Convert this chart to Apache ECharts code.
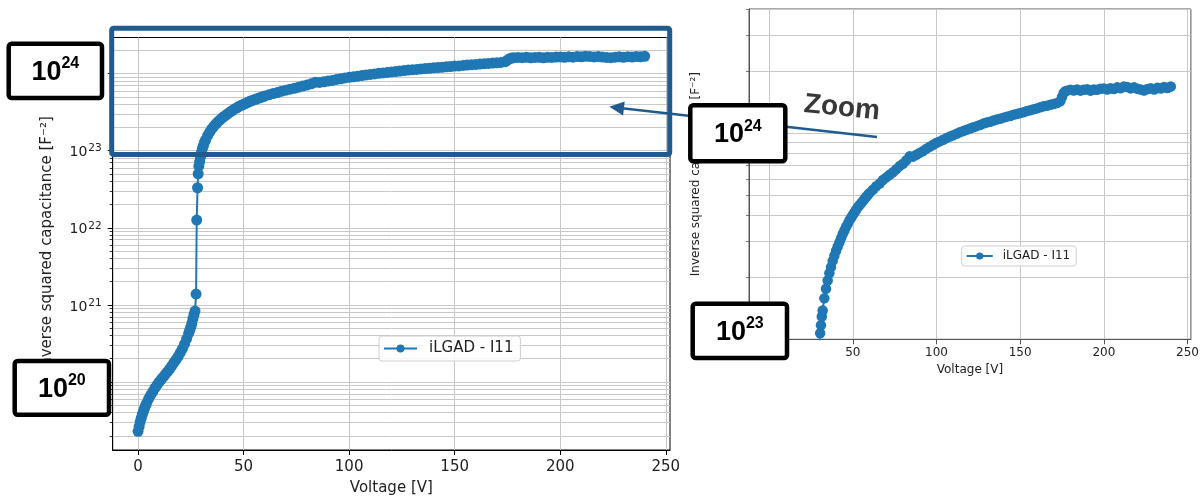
<!DOCTYPE html>
<html>
<head>
<meta charset="utf-8">
<title>iLGAD - I11 inverse squared capacitance</title>
<script src="https://cdn.jsdelivr.net/npm/echarts@6/dist/echarts.min.js"></script>
<style>
  html, body { margin: 0; padding: 0; background: #ffffff; }
  #chart { width: 1202px; height: 501px; }
</style>
</head>
<body>
<div id="chart"></div>
<script>
// Bias voltage sweep [V]
const voltage = [
  0, 0.5, 1, 1.5, 2, 2.5, 3, 3.5, 4, 5, 6, 7, 8, 9, 10, 11, 12, 13, 14, 15,
  16, 17, 18, 19, 20, 21, 22, 23, 24, 24.5, 25, 25.5, 26, 26.5, 27, 27.5, 27.8, 28.2, 28.5, 28.8,
  29.2, 29.6, 30, 30.5, 31, 31.5, 32, 33, 34, 35, 36, 37, 38, 39, 40, 41, 42, 43, 44, 45,
  46, 47, 48, 49, 50, 51, 52, 53, 54, 55, 56, 57, 58, 59, 60, 62, 64, 66, 68, 70,
  72, 74, 76, 78, 80, 82, 84, 86, 88, 90, 92, 94, 96, 98, 100, 102, 104, 106, 108, 110,
  112, 114, 116, 118, 120, 122, 124, 126, 128, 130, 132, 134, 136, 138, 140, 142, 144, 146, 148, 150,
  152, 154, 156, 158, 160, 162, 164, 166, 168, 170, 172, 174, 175, 176, 177, 178, 180, 182, 184, 186,
  188, 190, 192, 194, 196, 198, 200, 202, 204, 206, 208, 210, 212, 214, 216, 218, 220, 222, 224, 226,
  228, 230, 232, 234, 236, 238, 240
];

// Measured 1/C^2 [F^-2]
const invCap2 = [
  2.29e19, 2.63e19, 3.02e19, 3.39e19, 3.76e19, 4.12e19, 4.52e19, 4.90e19, 5.25e19, 6.03e19,
  6.76e19, 7.50e19, 8.32e19, 9.12e19, 1.00e20, 1.08e20, 1.16e20, 1.26e20, 1.36e20, 1.48e20,
  1.62e20, 1.78e20, 1.95e20, 2.14e20, 2.40e20, 2.69e20, 3.09e20, 3.63e20, 4.27e20, 4.68e20,
  5.13e20, 5.75e20, 6.61e20, 7.41e20, 8.32e20, 1.38e21, 1.26e22, 3.31e22, 5.01e22, 6.31e22,
  7.24e22, 8.32e22, 9.55e22, 1.07e23, 1.17e23, 1.29e23, 1.38e23, 1.58e23, 1.76e23, 1.93e23,
  2.09e23, 2.24e23, 2.40e23, 2.54e23, 2.69e23, 2.82e23, 2.95e23, 3.09e23, 3.24e23, 3.37e23,
  3.51e23, 3.63e23, 3.78e23, 3.89e23, 4.01e23, 4.12e23, 4.25e23, 4.37e23, 4.47e23, 4.57e23,
  4.68e23, 4.79e23, 4.90e23, 5.01e23, 5.13e23, 5.31e23, 5.52e23, 5.69e23, 5.92e23, 6.10e23,
  6.28e23, 6.46e23, 6.68e23, 6.92e23, 7.11e23, 7.38e23, 7.73e23, 7.69e23, 7.85e23, 8.02e23,
  8.18e23, 8.41e23, 8.59e23, 8.79e23, 8.97e23, 9.12e23, 9.29e23, 9.46e23, 9.62e23, 9.77e23,
  9.93e23, 1.009e24, 1.023e24, 1.038e24, 1.052e24, 1.067e24, 1.081e24, 1.096e24, 1.112e24, 1.125e24,
  1.135e24, 1.151e24, 1.164e24, 1.175e24, 1.189e24, 1.202e24, 1.211e24, 1.227e24, 1.239e24, 1.253e24,
  1.262e24, 1.279e24, 1.291e24, 1.306e24, 1.318e24, 1.334e24, 1.349e24, 1.358e24, 1.371e24, 1.384e24,
  1.400e24, 1.429e24, 1.496e24, 1.567e24, 1.596e24, 1.607e24, 1.622e24, 1.611e24, 1.629e24, 1.607e24,
  1.622e24, 1.633e24, 1.607e24, 1.629e24, 1.622e24, 1.641e24, 1.648e24, 1.629e24, 1.652e24, 1.637e24,
  1.667e24, 1.652e24, 1.683e24, 1.675e24, 1.648e24, 1.667e24, 1.641e24, 1.626e24, 1.611e24, 1.637e24,
  1.652e24, 1.629e24, 1.660e24, 1.644e24, 1.675e24, 1.656e24, 1.683e24
];

const seriesName = 'iLGAD - I11';
const xTicks = [0, 50, 100, 150, 200, 250];
const fullDecades = [1e20, 1e21, 1e22, 1e23, 1e24];
const fullLabelDecades = [1e21, 1e22, 1e23];
const zoomDecades = [1e23, 1e24];

const blue = '#1f77b4';
const frameBlue = '#1f5b8e';
const gridGray = '#c8c8c8';

const points = voltage.map((v, i) => [v, invCap2[i]]);

const powLabel = v => '{b|10}{s|' + Math.round(Math.log10(v)) + '}';

function xAxisFor(gridIndex, fontSize, lineColor, margin, nameGap) {
  return {
    type: 'value', gridIndex: gridIndex, min: -12, max: 252,
    axisLine: { show: true, onZero: false, lineStyle: { color: lineColor, width: 1 } },
    axisTick: { show: true, inside: false, length: 5, customValues: xTicks, lineStyle: { color: lineColor } },
    axisLabel: { customValues: xTicks, fontSize: fontSize,
                 color: '#222', margin: margin, fontFamily: 'DejaVu Sans' },
    splitLine: { show: true, lineStyle: { color: gridGray, width: 1 } },
    name: 'Voltage [V]', nameLocation: 'middle', nameGap: nameGap,
    nameTextStyle: { fontSize: fontSize, color: '#222', fontFamily: 'DejaVu Sans' }
  };
}

function yAxisFor(gridIndex, min, max, tickValues, labelValues, showLabels, fontSize, lineColor, nameGap) {
  return {
    type: 'log', logBase: 10, gridIndex: gridIndex, min: min, max: max,
    axisLine: { show: true, onZero: false, lineStyle: { color: lineColor, width: 1 } },
    axisTick: { show: true, inside: false, length: 5, customValues: tickValues, lineStyle: { color: lineColor } },
    minorTick: { show: true, splitNumber: 9, length: 3, lineStyle: { color: lineColor, width: 0.8 } },
    axisLabel: {
      show: showLabels, customValues: labelValues,
      formatter: powLabel, margin: 11, color: '#222',
      rich: {
        b: { fontSize: 14, fontFamily: 'DejaVu Sans', color: '#222', padding: [4, 0, 0, 0] },
        s: { fontSize: 10.5, fontFamily: 'DejaVu Sans', color: '#222', padding: [0, 0, 4, 1] }
      }
    },
    splitLine: { show: true, lineStyle: { color: gridGray, width: 1 } },
    minorSplitLine: { show: true, lineStyle: { color: gridGray, width: 1 } },
    name: 'Inverse squared capacitance [F\u207B\u00B2]', nameLocation: 'middle', nameGap: nameGap, nameRotate: 90,
    nameTextStyle: { fontSize: fontSize, color: '#222', fontFamily: 'DejaVu Sans' }
  };
}

function cvSeries(index, size) {
  return {
    name: seriesName, type: 'line', xAxisIndex: index, yAxisIndex: index,
    data: points, symbol: 'circle', symbolSize: size, showSymbol: true, showAllSymbol: true,
    itemStyle: { color: blue }, lineStyle: { color: blue, width: 2 },
    emphasis: { disabled: true }, clip: true, z: 3
  };
}

function legendFor(left, top, fontSize, itemWidth, itemHeight, padding, textPad) {
  return {
    data: [seriesName], left: left, top: top, orient: 'horizontal',
    itemWidth: itemWidth, itemHeight: itemHeight, padding: padding,
    backgroundColor: 'rgba(255,255,255,0.85)', borderColor: '#cfcfcf', borderWidth: 1, borderRadius: 3,
    selectedMode: false,
    textStyle: { fontSize: fontSize, color: '#222', fontFamily: 'DejaVu Sans', padding: textPad }
  };
}

// Annotation box with a power-of-ten label
function powerBox(x, y, w, h, exponent) {
  return [
    { type: 'rect', z: 110, shape: { x: x, y: y, width: w, height: h, r: 3 },
      style: { fill: '#ffffff', stroke: '#000000', lineWidth: 4.5 } },
    { type: 'text', z: 111, x: x + w / 2, y: y + h / 2,
      style: {
        text: '{b|10}{s|' + exponent + '}', x: 0, y: 0, align: 'center', verticalAlign: 'middle',
        textAlign: 'center', textVerticalAlign: 'middle',
        rich: {
          b: { fontSize: 27, fontWeight: 'bold', fontFamily: 'Liberation Sans', fill: '#000', verticalAlign: 'bottom', lineHeight: 30 },
          s: { fontSize: 16, fontWeight: 'bold', fontFamily: 'Liberation Sans', fill: '#000', verticalAlign: 'top', lineHeight: 18 }
        }
      } }
  ];
}

const chart = echarts.init(document.getElementById('chart'), null, { renderer: 'canvas' });

chart.setOption({
  animation: false,
  backgroundColor: '#ffffff',
  textStyle: { fontFamily: 'DejaVu Sans' },
  grid: [
    { left: 112.7, top: 37.5, width: 557.3, height: 414.5, show: true, borderColor: '#000', borderWidth: 1, containLabel: false },
    { left: 749, top: 9, width: 444.5, height: 330.3, show: true, borderColor: '#555', borderWidth: 1, containLabel: false }
  ],
  xAxis: [
    xAxisFor(0, 15, '#000', 10, 31),
    xAxisFor(1, 12, '#555', 8, 24)
  ],
  yAxis: [
    yAxisFor(0, 1.309e19, 2.946e24, fullDecades, fullLabelDecades, true, 15, '#000', 58),
    yAxisFor(1, 1e23, 4e24, zoomDecades, zoomDecades, false, 12, '#555', 47)
  ],
  legend: [
    legendFor(379, 336, 15, 33, 10, [5, 7, 5, 4], [0, 0, 0, 7]),
    legendFor(961.7, 246, 12, 26, 9, [4, 6, 4, 4], [0, 0, 0, 5])
  ],
  series: [cvSeries(0, 11), cvSeries(1, 10.5)],
  graphic: [
    // frame marking the zoomed region
    { type: 'rect', z: 100, shape: { x: 111.7, y: 28.3, width: 558, height: 126.2, r: 2 },
      style: { fill: 'none', stroke: frameBlue, lineWidth: 5 } },
    // arrow pointing into the framed region
    { type: 'line', z: 100, shape: { x1: 877, y1: 137, x2: 622, y2: 108.2 },
      style: { stroke: frameBlue, lineWidth: 2.5 } },
    { type: 'polygon', z: 100, shape: { points: [[609.3, 106.7], [624.7, 101.4], [623.1, 115.4]] },
      style: { fill: frameBlue } },
    { type: 'text', z: 105, x: 842, y: 108, rotation: -0.1,
      style: { text: 'Zoom', x: 0, y: 0, align: 'center', verticalAlign: 'middle', textAlign: 'center', textVerticalAlign: 'middle',
               font: 'bold 28px "Liberation Sans"', fill: '#383838' } }
  ]
    .concat(powerBox(8.7, 43.7, 93.3, 54.3, 24))
    .concat(powerBox(14.7, 361, 94.3, 53.7, 20))
    .concat(powerBox(690.3, 105.3, 95, 56, 24))
    .concat(powerBox(692.7, 303.7, 94.3, 54.3, 23))
});
</script>
</body>
</html>
